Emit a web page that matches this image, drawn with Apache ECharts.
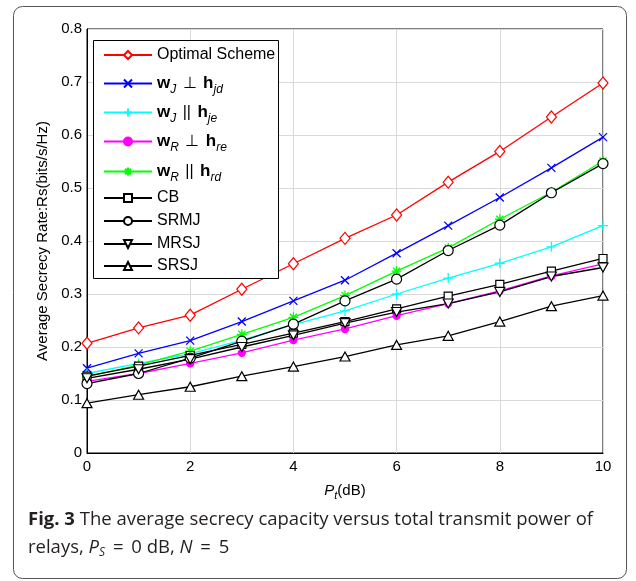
<!DOCTYPE html>
<html>
<head>
<meta charset="utf-8">
<script src="https://cdn.jsdelivr.net/npm/echarts@6/dist/echarts.min.js"></script>
<style>
  html, body { margin: 0; padding: 0; background: #fff; }
  #main { width: 636px; height: 581px; }
</style>
</head>
<body>
<div id="main"></div>
<script>
// P_t (dB)
const xData = [0, 1, 2, 3, 4, 5, 6, 7, 8, 9, 10];

const optimal = [0.207, 0.236, 0.260, 0.309, 0.357, 0.405, 0.449, 0.511, 0.569, 0.634, 0.698];
const wjPerpHjd = [0.160, 0.188, 0.212, 0.248, 0.287, 0.326, 0.377, 0.429, 0.482, 0.538, 0.596];
const wjParHje = [0.150, 0.169, 0.187, 0.213, 0.242, 0.268, 0.300, 0.330, 0.358, 0.389, 0.429];
const wrPerpHre = [0.135, 0.150, 0.169, 0.189, 0.213, 0.234, 0.259, 0.282, 0.306, 0.334, 0.357];
const wrParHrd = [0.144, 0.166, 0.192, 0.224, 0.256, 0.297, 0.343, 0.387, 0.441, 0.492, 0.551];
const cb = [0.145, 0.164, 0.184, 0.205, 0.226, 0.248, 0.272, 0.296, 0.318, 0.343, 0.367];
const srmj = [0.131, 0.150, 0.179, 0.211, 0.243, 0.287, 0.328, 0.382, 0.430, 0.491, 0.546];
const mrsj = [0.141, 0.158, 0.177, 0.200, 0.222, 0.245, 0.266, 0.282, 0.304, 0.333, 0.350];
const srsj = [0.094, 0.110, 0.125, 0.145, 0.163, 0.182, 0.204, 0.221, 0.248, 0.277, 0.297];

const FONT = '"Liberation Sans", Arial, sans-serif';

const pair = (arr) => arr.map((v, i) => [xData[i], v]);

const legendText = {
  opt: 'Optimal Scheme',
  wjd: '{b|w}{s|J}{m| ⊥ }{b|h}{s|jd}',
  wje: '{b|w}{s|J}{m| || }{b|h}{s|je}',
  wre: '{b|w}{s|R}{m| ⊥ }{b|h}{s|re}',
  wrd: '{b|w}{s|R}{m| || }{b|h}{s|rd}',
  cb: 'CB',
  srmj: 'SRMJ',
  mrsj: 'MRSJ',
  srsj: 'SRSJ'
};

const symX = 'path://M0,0L10,10M10,0L0,10';
const symPlus = 'path://M5,0L5,10M0,5L10,5';
const symStar = 'path://M5,0L5,10M0,5L10,5M1.5,1.5L8.5,8.5M8.5,1.5L1.5,8.5';
const symDown = 'path://M0,0L10,0L5,9Z';
const symUp = 'path://M5,0L10,9L0,9Z';

function mk(name, data, color, symbol, size, hollow) {
  return {
    name,
    type: 'line',
    data: pair(data),
    symbol,
    symbolSize: size,
    showAllSymbol: true,
    lineStyle: { color, width: 1.3 },
    itemStyle: hollow
      ? { color: '#fff', borderColor: color, borderWidth: 1.2 }
      : { color, borderColor: color, borderWidth: 1.3 },
    emphasis: { disabled: true },
    z: 3
  };
}

const series = [
  mk('opt', optimal, '#ff0000', 'diamond', [10, 12], true),
  mk('wjd', wjPerpHjd, '#0000ff', symX, 8, false),
  mk('wje', wjParHje, '#00ffff', symPlus, 10, false),
  mk('wre', wrPerpHre, '#ff00ff', 'circle', 7, false),
  mk('wrd', wrParHrd, '#00ff00', symStar, 10, false),
  mk('cb', cb, '#000000', 'rect', 8, true),
  mk('srmj', srmj, '#000000', 'circle', 10, true),
  mk('mrsj', mrsj, '#000000', symDown, [10, 9], true),
  mk('srsj', srsj, '#000000', symUp, [10, 9], true)
];

const legendY = [53, 81, 110, 139, 169, 196, 219, 242, 264];
const legendRich = {
  b: { fontFamily: FONT, fontWeight: 'bold', fontSize: 17, color: '#000' },
  s: { fontFamily: FONT, fontStyle: 'italic', fontSize: 12, color: '#000', padding: [12, 0, 0, 0] },
  m: { fontFamily: FONT, fontSize: 16, color: '#000', padding: [0, 2, 0, 2] }
};
const legends = series.map((s, i) => ({
  data: [s.name],
  left: 103,
  top: legendY[i] - 6,
  height: 20,
  padding: 0,
  itemWidth: 48,
  itemHeight: 10,
  z: 20,
  selectedMode: false,
  formatter: (n) => legendText[n],
  textStyle: { fontFamily: FONT, fontSize: 16, color: '#000', rich: legendRich }
}));

const chart = echarts.init(document.getElementById('main'));
chart.setOption({
  animation: false,
  backgroundColor: '#fff',
  grid: {
    left: 87, right: 33, top: 29, bottom: 128,
    show: true, borderColor: '#000', borderWidth: 1, backgroundColor: 'transparent'
  },
  legend: legends,
  xAxis: [{
    type: 'value', min: 0, max: 10, interval: 2,
    name: '{i|P}{s|t}{n|(dB)}',
    nameLocation: 'middle', nameGap: 27,
    nameTextStyle: {
      rich: {
        i: { fontFamily: FONT, fontStyle: 'italic', fontSize: 15, color: '#000' },
        s: { fontFamily: FONT, fontStyle: 'italic', fontSize: 11, color: '#000', padding: [10, 0, 0, 0] },
        n: { fontFamily: FONT, fontSize: 15, color: '#000' }
      }
    },
    axisLine: { lineStyle: { color: '#000', width: 1 } },
    axisTick: { show: false },
    axisLabel: { fontFamily: FONT, fontSize: 15, color: '#000', margin: 6 },
    splitLine: { show: true, lineStyle: { color: '#d9d9d9', width: 1 } }
  }, {
    type: 'value', min: 0, max: 10, interval: 2, position: 'top',
    axisLine: { show: false },
    axisTick: { show: false },
    axisLabel: { show: false },
    splitLine: { show: false }
  }],
  yAxis: [{
    type: 'value', min: 0, max: 0.8, interval: 0.1,
    name: 'Average Secrecy Rate:Rs(bits/s/Hz)',
    nameLocation: 'middle', nameGap: 36,
    nameTextStyle: { fontFamily: FONT, fontSize: 15, color: '#000' },
    axisLine: { show: true, lineStyle: { color: '#000', width: 1 } },
    axisTick: { show: false },
    axisLabel: { fontFamily: FONT, fontSize: 15, color: '#000', margin: 5,
      formatter: (v) => (v === 0 ? '0' : v.toFixed(1)) },
    splitLine: { show: true, lineStyle: { color: '#d9d9d9', width: 1 } }
  }, {
    type: 'value', min: 0, max: 0.8, interval: 0.1, position: 'right',
    axisLine: { show: false },
    axisTick: { show: false },
    axisLabel: { show: false },
    splitLine: { show: false }
  }],
  series,
  graphic: [
    {
      type: 'rect', left: 11, top: 4, z: -1,
      shape: { width: 613, height: 572, r: 9 },
      style: { fill: 'none', stroke: '#555', lineWidth: 1 }
    },
    {
      type: 'rect', left: 93, top: 40, z: 10,
      shape: { width: 185, height: 238 },
      style: { fill: '#fff', stroke: '#000', lineWidth: 1 }
    },
    {
      type: 'text', left: 28, top: 510, z: 6,
      style: {
        text: '{b|Fig. 3} The average secrecy capacity versus total transmit power of',
        font: '18.5px "Open Sans"', fill: '#231f20',
        rich: { b: { fontFamily: 'Open Sans', fontWeight: 'bold', fontSize: 18.5, fill: '#231f20' } }
      }
    },
    {
      type: 'text', left: 28, top: 538, z: 6,
      style: {
        text: 'relays, {i|P}{s|S}{e| = }0 dB, {i|N}{e| = }5',
        font: '18.5px "Open Sans"', fill: '#231f20',
        rich: {
          i: { fontFamily: 'Open Sans', fontStyle: 'italic', fontSize: 18.5, fill: '#231f20' },
          s: { fontFamily: 'Open Sans', fontStyle: 'italic', fontSize: 12, fill: '#231f20', padding: [10, 0, 0, 0] },
          e: { fontFamily: 'Open Sans', fontSize: 18.5, fill: '#231f20', padding: [0, 3, 0, 3] }
        }
      }
    }
  ]
});
</script>
</body>
</html>
